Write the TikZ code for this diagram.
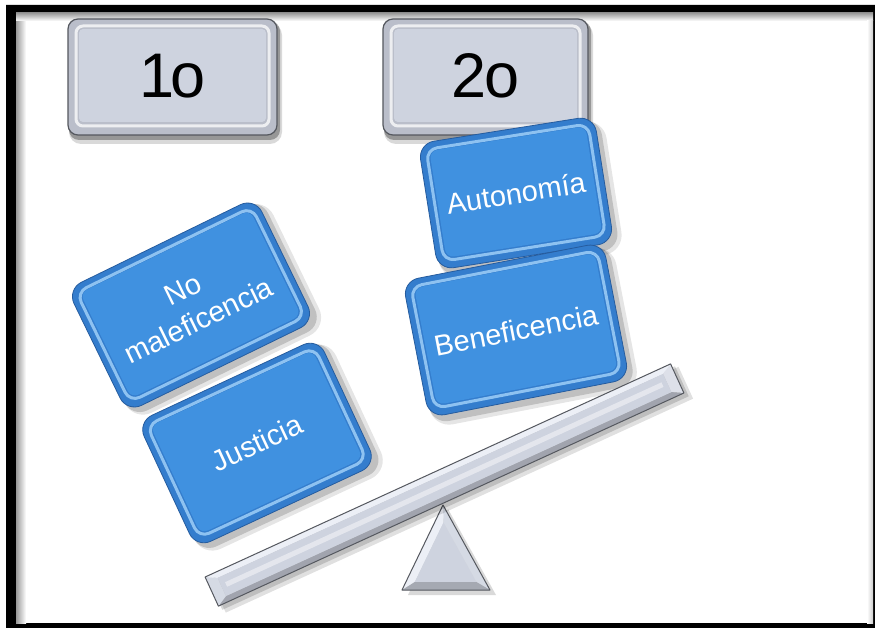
\documentclass[tikz,border=0pt]{standalone}
\usepackage{fontspec}
\setmainfont{Liberation Sans}
\usetikzlibrary{calc}
\definecolor{bluef}{RGB}{64,145,224}
\definecolor{bluerim}{RGB}{52,125,205}
\definecolor{blueedge}{RGB}{38,92,158}
\definecolor{bluel}{RGB}{165,212,250}
\definecolor{grayf}{RGB}{206,211,223}
\definecolor{grayrim}{RGB}{186,190,202}
\definecolor{grayd}{RGB}{85,88,95}
\definecolor{grayl}{RGB}{236,239,246}
\tikzset{
  btext/.style={text=white,font=\fontsize{29}{35}\selectfont,align=center,inner sep=0pt},
  gtext/.style={text=black,font=\fontsize{63}{68}\selectfont,inner sep=0pt},
}
\newcommand\BlueBox[7]{%
\begin{scope}[shift={(#2,#3)},rotate=#4]
\pgfmathsetmacro\hw{#5/2}
\pgfmathsetmacro\hh{#6/2}
\fill[black,opacity=.10,rounded corners=20pt] (-\hw+2,-\hh+4) rectangle (\hw+9,\hh+11);
\fill[black,opacity=.16,rounded corners=17pt] (-\hw+2,-\hh+3) rectangle (\hw+5,\hh+7);
\filldraw[fill=bluerim,draw=blueedge,line width=.8pt,rounded corners=16pt] (-\hw,-\hh) rectangle (\hw,\hh);
\draw[bluel,line width=3pt,opacity=.8,rounded corners=11pt] (-\hw+7,-\hh+7) rectangle (\hw-7,\hh-8);
\fill[bluef,rounded corners=8pt] (-\hw+10,-\hh+9) rectangle (\hw-10,\hh-11);
\node[btext,transform shape] (#1) at (0,0) {#7};
\end{scope}}
\newcommand\GrayBox[6]{%
\begin{scope}[shift={(#2,#3)}]
\pgfmathsetmacro\hw{#4/2}
\pgfmathsetmacro\hh{#5/2}
\fill[black,opacity=.15,rounded corners=12pt] (-\hw+1,-\hh+4) rectangle (\hw+5,\hh+9);
\fill[black,opacity=.3,rounded corners=10pt] (-\hw+1,-\hh+2) rectangle (\hw+3,\hh+5);
\filldraw[fill=grayrim,draw=grayd,line width=1.2pt,rounded corners=10pt] (-\hw,-\hh) rectangle (\hw,\hh);
\draw[white,line width=3pt,opacity=.75,rounded corners=7pt] (-\hw+8,-\hh+7) rectangle (\hw-8,\hh-9);
\fill[grayf,rounded corners=4pt] (-\hw+11,-\hh+10) rectangle (\hw-11,\hh-13);
\node[gtext] (#1) at (0,-1) {#6};
\end{scope}}
\begin{document}
\begin{tikzpicture}[x=1pt,y=-1pt]
\useasboundingbox (0,0) rectangle (875,628);
\fill[white] (0,0) rectangle (875,628);
% frame
\fill[black,even odd rule] (6,5) rectangle (875,628) (16,13) rectangle (873,623);
\shade[left color=black!40,right color=white] (16,13) rectangle (26,623);
\shade[top color=black!40,bottom color=white] (16,13) rectangle (873,21);
\shade[left color=white,right color=black!20] (867,21) rectangle (873,623);
% grey labels
\GrayBox{first}{172.5}{77}{209}{116}{1\kern-3.5pt o}
\GrayBox{second}{485.5}{77}{205}{116}{2\kern-1.5pt o}
% left blocks
\BlueBox{nomal}{191}{305}{26}{209}{137}{No\\maleficencia}
\BlueBox{just}{257}{443}{25}{199}{139}{Justicia}
% right blocks
\BlueBox{auto}{516}{193}{9}{178}{128}{Autonomía}
\BlueBox{bene}{516}{330}{11}{204}{139}{Beneficencia}
% fulcrum
\coordinate (tP) at (443,505);
\coordinate (tL) at (402,590);
\coordinate (tR) at (490,590);
\coordinate (tI) at (444.6,563.2);
\coordinate (tp) at ($(tI)!0.7!(tP)$);
\coordinate (tl) at ($(tI)!0.7!(tL)$);
\coordinate (tr) at ($(tI)!0.7!(tR)$);
\fill[black,opacity=.15] ($(tP)+(5,4)$) -- ($(tR)+(6,5)$) -- ($(tL)+(6,5)$) -- cycle;
\fill[grayl] (tP) -- (tL) -- (tl) -- (tp) -- cycle;
\fill[grayf!85!white] (tP) -- (tR) -- (tr) -- (tp) -- cycle;
\fill[grayf!80!black] (tL) -- (tR) -- (tr) -- (tl) -- cycle;
\fill[grayf] (tp) -- (tl) -- (tr) -- cycle;
\draw[grayd,line width=1pt,line join=round] (tP) -- (tL) -- (tR) -- cycle;
% beam
\begin{scope}[shift={(444.5,485)},rotate=24.6]
\fill[black,opacity=.12] (-252,-10) rectangle (262,25);
\fill[black,opacity=.15] (-254,-12) rectangle (259,21);
\coordinate (bA) at (-256,-16);
\coordinate (bB) at (256,-16);
\coordinate (bC) at (256,16);
\coordinate (bD) at (-256,16);
\coordinate (ba) at (-245,-10);
\coordinate (bb) at (245,-10);
\coordinate (bc) at (245,10);
\coordinate (bd) at (-245,10);
\fill[grayl] (bA) -- (bB) -- (bb) -- (ba) -- cycle;
\fill[grayf!70!white] (bB) -- (bC) -- (bc) -- (bb) -- cycle;
\fill[grayf!78!black] (bC) -- (bD) -- (bd) -- (bc) -- cycle;
\fill[grayf!85!white] (bD) -- (bA) -- (ba) -- (bd) -- cycle;
\fill[grayf] (ba) -- (bb) -- (bc) -- (bd) -- cycle;
\fill[white,opacity=.45] (-240,-3) rectangle (240,2);
\draw[grayd,line width=1pt,line join=round] (bA) -- (bB) -- (bC) -- (bD) -- cycle;
\end{scope}
\end{tikzpicture}
\end{document}
